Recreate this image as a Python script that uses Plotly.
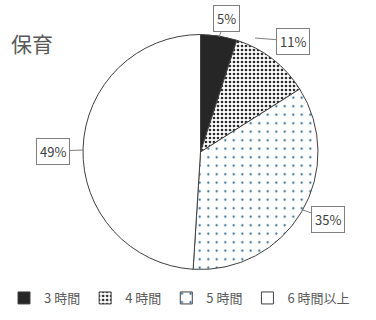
import plotly.graph_objects as go

# 保育: 利用時間の内訳
categories = ["3 時間", "4 時間", "5 時間", "6 時間以上"]
shares = [5, 11, 35, 49]
slice_colors = ["#262626", "#ffffff", "#ffffff", "#ffffff"]

W, H = 376, 320
FONT = "Noto Sans CJK JP, Noto Sans, sans-serif"
GRAY = "#595959"


def px(x):
    return x / W


def py(y):
    return 1 - y / H


patterns = [
    dict(shape=""),
    dict(shape=".", fgcolor="#2b2b2b", bgcolor="#ffffff", size=4, solidity=0.35),
    dict(shape=".", fgcolor="#1f5f86", bgcolor="#ffffff", size=8.5, solidity=0.05),
    dict(shape=""),
]

fig = go.Figure(
    go.Pie(
        labels=categories,
        values=shares,
        sort=False,
        direction="clockwise",
        rotation=0,
        textinfo="none",
        hoverinfo="label+percent",
        marker=dict(
            colors=slice_colors,
            line=dict(color="#404040", width=1),
            pattern=dict(
                shape=[p["shape"] for p in patterns],
                fgcolor=[p.get("fgcolor", "#000000") for p in patterns],
                bgcolor=[p.get("bgcolor", c) for p, c in zip(patterns, slice_colors)],
                size=[p.get("size", 8) for p in patterns],
                solidity=[p.get("solidity", 0.3) for p in patterns],
            ),
        ),
        domain=dict(x=[px(83), px(318)], y=[py(270), py(34)]),
    )
)

# callout boxes: (text, tip x, tip y, box centre x, box centre y)
callouts = [
    (f"{shares[0]}%", 219, 37, 226, 19),
    (f"{shares[1]}%", 255, 38, 293, 41),
    (f"{shares[2]}%", 303, 210, 328, 219),
    (f"{shares[3]}%", 84, 150, 53, 151),
]
annotations = []
for text, tx, ty, bx, by in callouts:
    annotations.append(
        dict(
            text=text,
            xref="paper", yref="paper",
            x=px(tx), y=py(ty),
            ax=bx - tx, ay=by - ty,
            showarrow=True, arrowhead=0, arrowwidth=1, arrowcolor="#7f7f7f",
            bordercolor="#7f7f7f", borderwidth=1, borderpad=3,
            bgcolor="#ffffff",
            font=dict(family=FONT, size=13, color="#404040"),
        )
    )

annotations.append(
    dict(
        text="保育", xref="paper", yref="paper",
        x=px(9), y=py(43), xanchor="left", yanchor="middle",
        showarrow=False, font=dict(family=FONT, size=21, color=GRAY),
    )
)

fig.update_layout(
    width=W, height=H,
    margin=dict(l=0, r=0, t=0, b=0),
    paper_bgcolor="#ffffff",
    plot_bgcolor="#ffffff",
    annotations=annotations,
    showlegend=True,
    legend=dict(
        orientation="h",
        x=px(4), y=py(298), xanchor="left", yanchor="middle",
        font=dict(family=FONT, size=13, color=GRAY),
        itemwidth=30,
        traceorder="normal",
    ),
)

fig.write_html("out.html")
